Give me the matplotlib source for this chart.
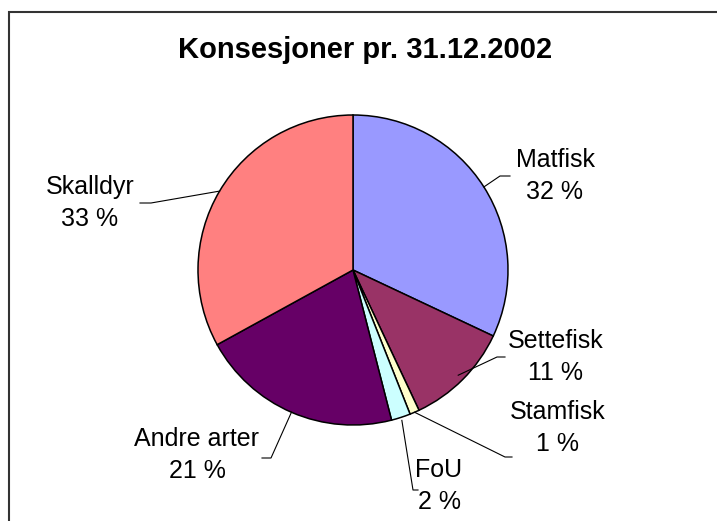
import numpy as np
import matplotlib.pyplot as plt
from matplotlib.patches import Rectangle

plt.rcParams['font.family'] = ['Liberation Sans', 'DejaVu Sans']

# data
categories = ['Matfisk', 'Settefisk', 'Stamfisk', 'FoU', 'Andre arter', 'Skalldyr']
shares = [32, 11, 1, 2, 21, 33]
colors = ['#9999FF', '#993366', '#FFFFCC', '#CCFFFF', '#660066', '#FF8080']
title = 'Konsesjoner pr. 31.12.2002'

W, H = 717, 521
# layout in pixel coords (y down): label centre, leader elbow points
label_pos = [(555, 176), (556, 357), (558, 428), (439, 486), (197, 455), (90, 203)]
elbows = [[(510, 176), (500, 176)],
          [(505, 357), (497, 357)],
          [(512, 457), (505, 457)],
          [(418, 490), (413, 490)],
          [(262, 458), (271, 458)],
          [(140, 203), (151, 203)]]
leader_r = [1.0, 0.96, 1.0, 1.02, 1.0, 1.0]

cx, cy, R = 353, 270, 155

fig = plt.figure(figsize=(W / 100, H / 100), dpi=100)
ax = fig.add_axes([0, 0, 1, 1])

wedges, _ = ax.pie(shares, colors=colors, startangle=90, counterclock=False,
                   center=(cx, H - cy), radius=R,
                   wedgeprops=dict(edgecolor='black', linewidth=1.1))
ax.set_xlim(0, W)
ax.set_ylim(0, H)
ax.set_aspect('equal')
ax.axis('off')

total = sum(shares)
start = 90.0
for i, (name, v) in enumerate(zip(categories, shares)):
    ang = start - 360.0 * v / total / 2
    start -= 360.0 * v / total
    rad = np.deg2rad(ang)
    px = cx + R * leader_r[i] * np.cos(rad)
    py = (H - cy) + R * leader_r[i] * np.sin(rad)
    xs = [p[0] for p in elbows[i]] + [px]
    ys = [H - p[1] for p in elbows[i]] + [py]
    ax.plot(xs, ys, color='black', lw=0.8)
    lx, ly = label_pos[i]
    ax.text(lx, H - ly, f'{name}\n{v} %', ha='center', va='center',
            fontsize=18, linespacing=1.45)

ax.text(365, H - 50, title, ha='center', va='center', fontsize=21, fontweight='bold')

# chart frame (extends past right and bottom edge)
fig.patches.append(Rectangle((9 / W, -0.1), 1.2, (H - 12) / H + 0.1,
                             transform=fig.transFigure, fill=False,
                             edgecolor='#333333', linewidth=1.5))

fig.savefig('out.png', dpi=100)
